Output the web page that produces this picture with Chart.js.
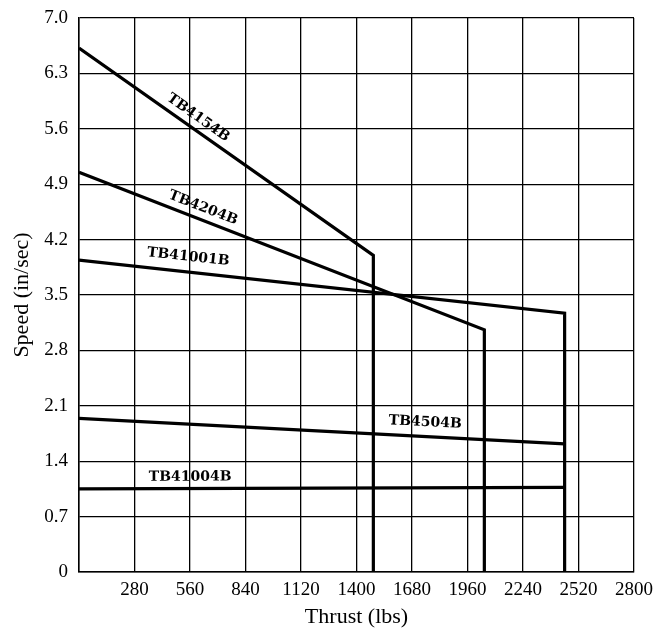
<!DOCTYPE html>
<html>
<head>
<meta charset="utf-8">
<script src="https://cdn.jsdelivr.net/npm/chart.js@4"></script>
<style>
  body { margin: 0; background: #fff; }
  #wrap { width: 660px; height: 630px; }
</style>
</head>
<body>
<div id="wrap"><canvas id="chart" width="660" height="630"></canvas></div>
<script>
// motor curves: thrust (lbs) vs speed (in/sec)
const seriesNames = ['TB4154B', 'TB4204B', 'TB41001B', 'TB4504B', 'TB41004B'];
const thrustTB4154B = [0, 1485, 1485];
const speedTB4154B = [6.62, 4.0, 0];
const thrustTB4204B = [0, 2045, 2045];
const speedTB4204B = [5.05, 3.06, 0];
const thrustTB41001B = [0, 2450, 2450];
const speedTB41001B = [3.94, 3.27, 0];
const thrustTB4504B = [0, 2450];
const speedTB4504B = [1.94, 1.62];
const thrustTB41004B = [0, 2450];
const speedTB41004B = [1.05, 1.07];

const xTicks = [0, 280, 560, 840, 1120, 1400, 1680, 1960, 2240, 2520, 2800];
const yTicks = [0, 0.7, 1.4, 2.1, 2.8, 3.5, 4.2, 4.9, 5.6, 6.3, 7.0];

// where each curve name sits (data units)
const labelX = [601, 626, 551, 1747, 561];
const labelY = [5.74, 4.60, 3.98, 1.89, 1.20];

const thrustSets = [thrustTB4154B, thrustTB4204B, thrustTB41001B, thrustTB4504B, thrustTB41004B];
const speedSets = [speedTB4154B, speedTB4204B, speedTB41001B, speedTB4504B, speedTB41004B];

const datasets = seriesNames.map((name, i) => ({
  label: name,
  data: thrustSets[i].map((x, j) => ({ x: x, y: speedSets[i][j] })),
  borderColor: '#000',
  borderWidth: 3.2,
  pointRadius: 0,
  fill: false,
  tension: 0
}));

const curveLabels = {
  id: 'curveLabels',
  afterDatasetsDraw(chart) {
    const ctx = chart.ctx;
    const xs = chart.scales.x, ys = chart.scales.y;
    ctx.save();
    ctx.fillStyle = '#000';
    ctx.font = 'bold 14px "DejaVu Serif"';
    ctx.textAlign = 'center';
    ctx.textBaseline = 'middle';
    seriesNames.forEach((name, i) => {
      const pts = chart.getDatasetMeta(i).data;
      const ang = Math.atan2(pts[1].y - pts[0].y, pts[1].x - pts[0].x);
      ctx.save();
      ctx.translate(xs.getPixelForValue(labelX[i]), ys.getPixelForValue(labelY[i]));
      ctx.rotate(ang);
      ctx.fillText(name, 0, 0);
      ctx.restore();
    });
    ctx.restore();
  }
};

new Chart(document.getElementById('chart'), {
  type: 'line',
  data: { datasets: datasets },
  options: {
    responsive: false,
    animation: false,
    layout: { padding: { top: 18, right: 26, left: 0, bottom: 0 } },
    plugins: { legend: { display: false }, tooltip: { enabled: false } },
    scales: {
      x: {
        type: 'linear',
        min: 0,
        max: 2800,
        afterBuildTicks: s => { s.ticks = xTicks.map(v => ({ value: v })); },
        afterFit: s => { s.height = 58; },
        grid: { color: '#000', lineWidth: 1.3, drawTicks: false },
        border: { color: '#000', width: 1.5 },
        ticks: {
          color: '#000',
          padding: 7,
          maxRotation: 0,
          font: { family: '"Liberation Serif"', size: 19 },
          callback: v => v === 0 ? '' : String(v)
        },
        title: {
          display: true,
          text: 'Thrust (lbs)',
          color: '#000',
          padding: { top: 4, bottom: 0 },
          font: { family: '"Liberation Serif"', size: 22 }
        }
      },
      y: {
        type: 'linear',
        min: 0,
        max: 7,
        afterBuildTicks: s => { s.ticks = yTicks.map(v => ({ value: v })); },
        afterFit: s => { s.width = 79; s.paddingTop = 0; s.paddingBottom = 0; },
        grid: { color: '#000', lineWidth: 1.3, drawTicks: false },
        border: { color: '#000', width: 1.5 },
        ticks: {
          color: '#000',
          padding: 11,
          font: { family: '"Liberation Serif"', size: 19 },
          callback: v => v === 0 ? '0' : v.toFixed(1)
        },
        title: {
          display: true,
          text: 'Speed (in/sec)',
          color: '#000',
          padding: { top: 9, bottom: 0 },
          font: { family: '"Liberation Serif"', size: 22 }
        }
      }
    }
  },
  plugins: [curveLabels]
});
</script>
</body>
</html>
